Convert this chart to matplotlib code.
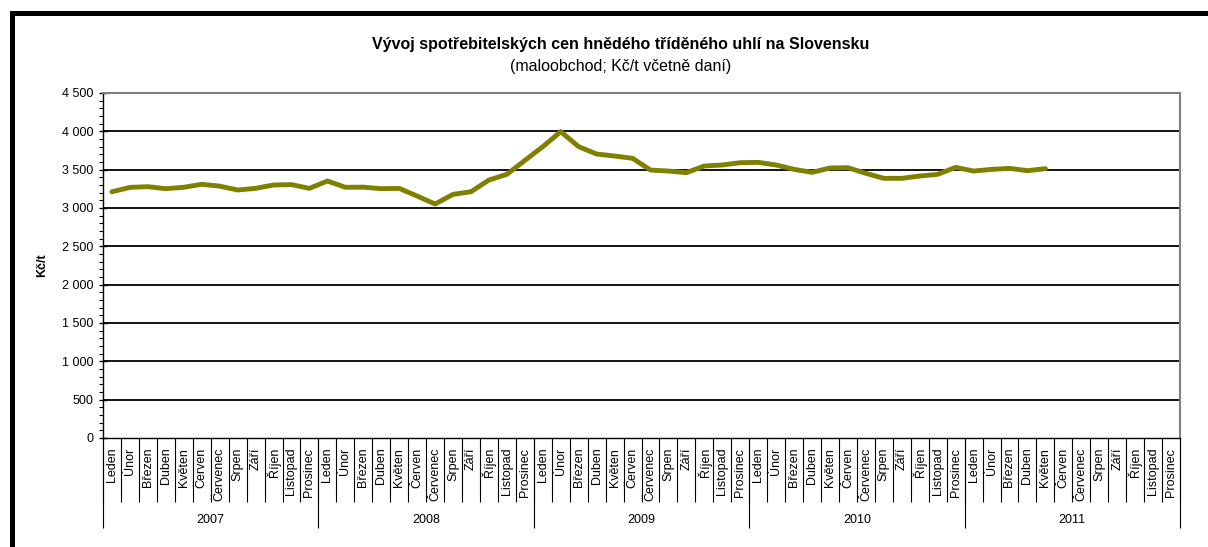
import matplotlib
matplotlib.use("Agg")
import matplotlib.pyplot as plt
import matplotlib.transforms as mtransforms
from matplotlib.patches import Rectangle
from matplotlib.ticker import FuncFormatter, MultipleLocator
import numpy as np

plt.rcParams['font.family'] = ['Liberation Sans', 'DejaVu Sans']

title = "Vývoj spotřebitelských cen hnědého tříděného uhlí na Slovensku"
subtitle = "(maloobchod; Kč/t včetně daní)"
ylabel = "Kč/t"
years = ["2007", "2008", "2009", "2010", "2011"]
months = ["Leden", "Únor", "Březen", "Duben", "Květen", "Červen", "Červenec",
          "Srpen", "Září", "Říjen", "Listopad", "Prosinec"]
# monthly prices Leden 2007 .. Květen 2011
prices = [3212, 3269, 3278, 3252, 3270, 3309, 3285, 3235, 3256, 3300, 3305, 3256,
          3352, 3270, 3272, 3252, 3256, 3156, 3052, 3178, 3212, 3365, 3439, 3620,
          3800, 3996, 3800, 3704, 3678, 3648, 3495, 3482, 3461, 3548, 3561, 3591,
          3595, 3561, 3504, 3465, 3522, 3526, 3452, 3387, 3387, 3417, 3439, 3530,
          3482, 3504, 3517, 3487, 3513]
yticks = [0, 500, 1000, 1500, 2000, 2500, 3000, 3500, 4000, 4500]

W, H = 1208, 547
fig = plt.figure(figsize=(W / 100, H / 100), dpi=100)
ax = fig.add_axes([103 / W, 1 - 438 / H, (1180 - 103) / W, (438 - 93) / H])

n_cat = len(years) * len(months)
x = np.arange(len(prices)) + 0.5
ax.plot(x, prices, color='#808000', lw=3.5, solid_joinstyle='round',
        solid_capstyle='round', zorder=3)

ax.set_xlim(0, n_cat)
ax.set_ylim(0, 4500)

# y axis
ax.set_yticks(yticks)
ax.yaxis.set_major_formatter(FuncFormatter(lambda v, p: f"{int(v):,}".replace(",", " ")))
ax.yaxis.set_minor_locator(MultipleLocator(100))
ax.tick_params(axis='y', which='major', direction='inout', length=6, width=1,
               labelsize=9, pad=4, color='black')
ax.tick_params(axis='y', which='minor', direction='out', length=3, width=0.8, color='black')
for yv in yticks[1:-1]:
    ax.axhline(yv, color='black', lw=1.3, zorder=1)
ax.set_ylabel(ylabel, fontsize=9, fontweight='bold', labelpad=10)

# x axis: category separators
ax.set_xticks(np.arange(0, n_cat + 1))
ax.set_xticklabels([])
ax.tick_params(axis='x', which='major', direction='out', length=46, width=0.8, color='black')
ax.set_xticks(np.arange(n_cat) + 0.5, minor=True)
ax.set_xticklabels(months * len(years), minor=True, rotation=90, fontsize=9)
ax.tick_params(axis='x', which='minor', length=0, pad=7)

trans = mtransforms.blended_transform_factory(ax.transData, ax.transAxes)
ax.vlines(np.arange(0, n_cat + 1, len(months)), -90 / 345, 0, colors='black', lw=0.8,
          transform=trans, clip_on=False)
for k, yr in enumerate(years):
    ax.text(k * len(months) + len(months) / 2, -82 / 345, yr, transform=trans,
            ha='center', va='center', fontsize=9)

for side in ['top', 'right']:
    ax.spines[side].set_color('#808080')
    ax.spines[side].set_linewidth(1.5)
for side in ['left', 'bottom']:
    ax.spines[side].set_color('black')
    ax.spines[side].set_linewidth(1.0)

fig.text(621 / W, 1 - 45 / H, title, ha='center', va='center', fontsize=11.5, fontweight='bold')
fig.text(621 / W, 1 - 66 / H, subtitle, ha='center', va='center', fontsize=11.5)

# outer chart frame
fig.patches.append(Rectangle((11.5 / W, -0.05), 1.2, 1 - 13 / H + 0.05, transform=fig.transFigure,
                             fill=False, edgecolor='black', lw=3.6, zorder=10))

fig.savefig("out.png", dpi=100)
